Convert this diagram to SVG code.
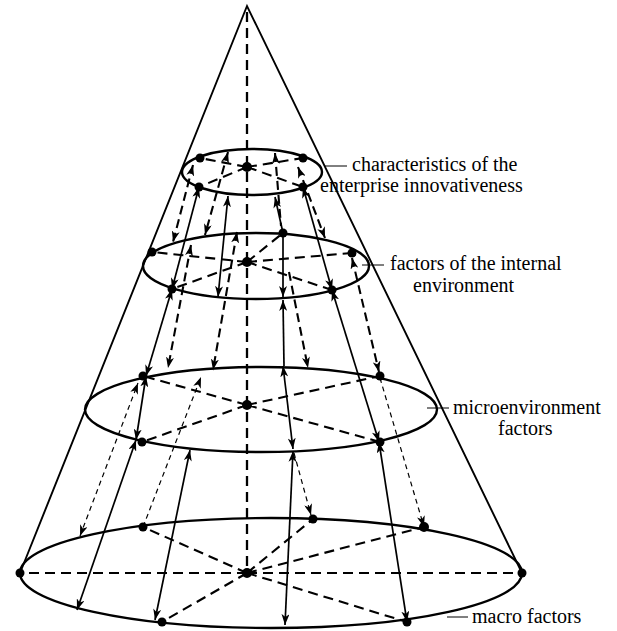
<svg xmlns="http://www.w3.org/2000/svg" width="617" height="631" viewBox="0 0 617 631">
<style>
.bg{fill:#fff}
.el{fill:none;stroke:#000;stroke-width:2.4}
.cone{fill:none;stroke:#000;stroke-width:1.9}
.axis{fill:none;stroke:#000;stroke-width:2.3;stroke-dasharray:10 6}
.star{fill:none;stroke:#000;stroke-width:2.1;stroke-dasharray:10 6}
.dot{fill:#000}
.tick{stroke:#000;stroke-width:1;fill:none}
.s{fill:none;stroke:#000;stroke-width:1.7}
.d{fill:none;stroke:#000;stroke-width:2.1;stroke-dasharray:9 5}
.t{fill:none;stroke:#000;stroke-width:1.2;stroke-dasharray:5 4}
.lbl{font-family:"Liberation Serif","Times New Roman",serif;font-size:20px;fill:#000}
</style>
<defs>
<marker id="ah" viewBox="0 0 11 8" refX="11" refY="4" markerWidth="11" markerHeight="8" markerUnits="userSpaceOnUse" orient="auto-start-reverse">
<path d="M0,0 L11,4 L0,8 L3,4 z" fill="#000"/>
</marker>
</defs>
<rect class="bg" x="0" y="0" width="617" height="631"/>
<g id="cone">
<path class="cone" d="M20,573 L247,6 L522,573"/>
<line class="axis" x1="247" y1="12" x2="247" y2="573"/>
</g>
<g id="level1">
<ellipse class="el" cx="252" cy="172" rx="70" ry="23"/>
<path class="star" d="M247,167 L200,158 M247,167 L303,158 M247,167 L199,187 M247,167 L303,187"/>
<circle class="dot" cx="247" cy="167" r="5"/>
<circle class="dot" cx="200" cy="158" r="4.5"/>
<circle class="dot" cx="303" cy="158" r="4.5"/>
<circle class="dot" cx="199" cy="187" r="4.5"/>
<circle class="dot" cx="303" cy="187" r="4.5"/>
<line class="tick" x1="324" y1="166" x2="347" y2="166"/>
<text class="lbl" x="352" y="171">characteristics of the</text>
<text class="lbl" x="320" y="192">enterprise innovativeness</text>
</g>
<g id="level2">
<ellipse class="el" cx="256" cy="266" rx="113" ry="33"/>
<path class="star" d="M247,262 L152,252 M247,262 L283,233 M247,262 L352,253 M247,262 L172,289 M247,262 L332,290"/>
<circle class="dot" cx="247" cy="262" r="5"/>
<circle class="dot" cx="152" cy="252" r="4.5"/>
<circle class="dot" cx="283" cy="233" r="4.5"/>
<circle class="dot" cx="352" cy="253" r="4.5"/>
<circle class="dot" cx="172" cy="289" r="4.5"/>
<circle class="dot" cx="332" cy="290" r="4.5"/>
<line class="tick" x1="362" y1="265" x2="384" y2="265"/>
<text class="lbl" x="390" y="270">factors of the internal</text>
<text class="lbl" x="413" y="292">environment</text>
</g>
<g id="level3">
<ellipse class="el" cx="261" cy="409.5" rx="176" ry="42.5"/>
<path class="star" d="M247,405 L143,376 M247,405 L380,376 M247,405 L142,442 M247,405 L380,442"/>
<circle class="dot" cx="247" cy="405" r="5"/>
<circle class="dot" cx="143" cy="376" r="4.5"/>
<circle class="dot" cx="380" cy="376" r="4.5"/>
<circle class="dot" cx="142" cy="442" r="4.5"/>
<circle class="dot" cx="380" cy="442" r="4.5"/>
<line class="tick" x1="427" y1="408" x2="449" y2="408"/>
<text class="lbl" x="453" y="414">microenvironment</text>
<text class="lbl" x="498" y="435">factors</text>
</g>
<g id="level4">
<ellipse class="el" cx="271" cy="573" rx="251" ry="55"/>
<path class="star" d="M247,573 L20,573 M247,573 L522,573 M247,573 L143,527 M247,573 L162,622 M247,573 L313,519 M247,573 L424,527 M247,573 L407,622"/>
<circle class="dot" cx="247" cy="573" r="5"/>
<circle class="dot" cx="20" cy="573" r="4.5"/>
<circle class="dot" cx="522" cy="573" r="4.5"/>
<circle class="dot" cx="143" cy="527" r="4.5"/>
<circle class="dot" cx="313" cy="519" r="4.5"/>
<circle class="dot" cx="424" cy="527" r="5"/>
<circle class="dot" cx="162" cy="622" r="4.5"/>
<circle class="dot" cx="407" cy="622" r="4.5"/>
<line class="tick" x1="447" y1="617" x2="468" y2="617"/>
<text class="lbl" x="472" y="623">macro factors</text>
</g>
<g id="connectors">
<path class="s" d="M199,187 L172,289" marker-start="url(#ah)" marker-end="url(#ah)"/>
<path class="s" d="M172,289 L146,376" marker-start="url(#ah)" marker-end="url(#ah)"/>
<path class="s" d="M146,376 L136,440" marker-start="url(#ah)" marker-end="url(#ah)"/>
<path class="s" d="M136,440 L77,610" marker-start="url(#ah)" marker-end="url(#ah)"/>
<path class="s" d="M303,187 L332,290" marker-start="url(#ah)" marker-end="url(#ah)"/>
<path class="s" d="M332,290 L379,442" marker-start="url(#ah)" marker-end="url(#ah)"/>
<path class="s" d="M379,442 L407,622" marker-start="url(#ah)" marker-end="url(#ah)"/>
<path class="s" d="M228,196 L218,297" marker-start="url(#ah)" marker-end="url(#ah)"/>
<path class="s" d="M275,197 L283,233" marker-start="url(#ah)"/>
<path class="s" d="M283,233 L283,297" marker-end="url(#ah)"/>
<path class="s" d="M283,300 L284,366" marker-start="url(#ah)"/>
<path class="s" d="M283,366 L293,449" marker-start="url(#ah)" marker-end="url(#ah)"/>
<path class="s" d="M293,451 L285,625" marker-start="url(#ah)" marker-end="url(#ah)"/>
<path class="s" d="M190,450 L155,620" marker-start="url(#ah)" marker-end="url(#ah)"/>
<path class="d" d="M193,165 L173,242" marker-start="url(#ah)" marker-end="url(#ah)"/>
<path class="d" d="M228,152 L205,235" marker-start="url(#ah)" marker-end="url(#ah)"/>
<path class="d" d="M275,153 L281,226" marker-start="url(#ah)"/>
<path class="d" d="M298,167 L325,238" marker-start="url(#ah)" marker-end="url(#ah)"/>
<path class="d" d="M191,245 L168,368" marker-start="url(#ah)" marker-end="url(#ah)"/>
<path class="d" d="M237,232 L213,370" marker-start="url(#ah)" marker-end="url(#ah)"/>
<path class="d" d="M289,272 L308,368" marker-end="url(#ah)"/>
<path class="d" d="M352,258 L379,372" marker-start="url(#ah)" marker-end="url(#ah)"/>
<path class="t" d="M80,536 L138,383" marker-start="url(#ah)" marker-end="url(#ah)"/>
<path class="t" d="M143,527 L201,377" marker-end="url(#ah)"/>
<path class="t" d="M294,453 L311,515" marker-end="url(#ah)"/>
<path class="t" d="M380,378 L424,527" marker-end="url(#ah)"/>
</g>
</svg>
